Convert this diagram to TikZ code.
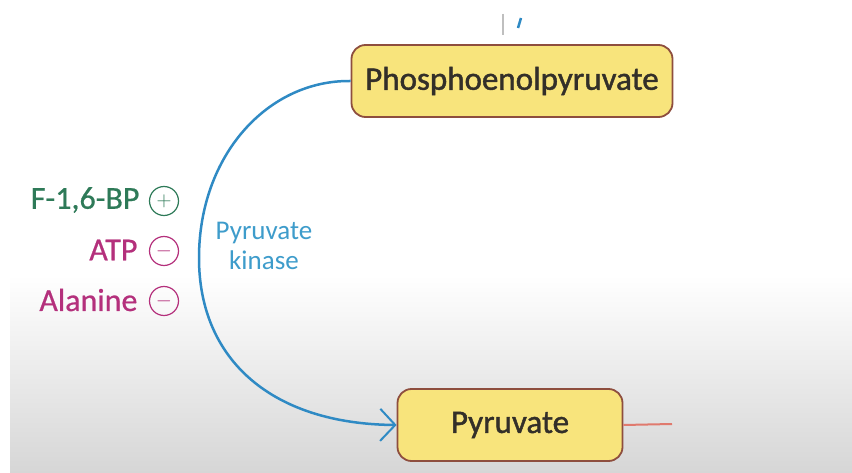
\documentclass[tikz,border=0pt]{standalone}
\usepackage{fontspec}
\setmainfont{Carlito}
\newfontfamily\heavyfont[FakeBold=1.3]{Carlito}
\newfontfamily\medfont[FakeBold=0.6]{Carlito}
\usetikzlibrary{arrows.meta}
\definecolor{boxfill}{HTML}{F8E47C}
\definecolor{boxdraw}{HTML}{8E4E3E}
\definecolor{arcblue}{HTML}{2F8AC4}
\definecolor{kblue}{HTML}{3E9CCB}
\definecolor{actgreen}{HTML}{2E7A58}
\definecolor{inhmag}{HTML}{B4307C}
\definecolor{redline}{HTML}{E07A6E}
\definecolor{bottomgray}{HTML}{D6D6D6}
\begin{document}
\begin{tikzpicture}[x=1pt,y=-1pt,
  metab/.style={draw=boxdraw,line width=1.8pt,fill=boxfill,rounded corners=14pt,
    inner sep=0pt,font=\heavyfont\fontsize{33}{36}\selectfont,text=black!85!olive},
  regtext/.style={anchor=east,font=\medfont\fontsize{32}{34}\selectfont},
  regsign/.style={circle,draw,line width=1.2pt,minimum size=29pt,inner sep=0pt,
    font=\fontsize{21}{21}\selectfont},
  flow/.style={draw=arcblue,line width=2.5pt,-{Straight Barb[length=15pt,width=32pt,line width=2pt]}}]
\useasboundingbox (0,0) rectangle (852,473);
\fill[white] (0,0) rectangle (852,473);
\shade[top color=white,bottom color=bottomgray] (10,275) rectangle (852,473);
% top marks
\draw[gray!50,line width=1.2pt] (503,14) -- (503,35);
\draw[arcblue,line width=2.5pt] (521,18) -- (518,28);
% boxes
\node[metab,minimum width=321pt,minimum height=72pt] (pep) at (512,81) {Phosphoenolpyruvate};
\node[metab,minimum width=225pt,minimum height=72pt] (pyr) at (510,425) {Pyruvate};
\coordinate (out) at (672,424);
\draw[redline,line width=2pt] (pyr.east) -- (out);
% reaction arc
\coordinate (arcl) at (199,258);
\draw[flow] (pep.west) .. controls (268,80) and (199,155) .. (arcl)
  .. controls (199,360) and (272,424) .. (pyr.west);
\node[text=kblue,font=\fontsize{27}{30}\selectfont,align=center] (enz) at (264,246) {Pyruvate\\kinase};
% regulators
\node[regsign,draw=actgreen,text=actgreen] (s1) at (164,201) {$+$};
\node[regsign,draw=inhmag,text=inhmag] (s2) at (164,251) {$-$};
\node[regsign,draw=inhmag,text=inhmag] (s3) at (164,301) {$-$};
\node[regtext,text=actgreen] (r1) at (143,200) {F-1,6-BP};
\node[regtext,text=inhmag] (r2) at (141,250) {ATP};
\node[regtext,text=inhmag] (r3) at (141,300) {Alanine};
\end{tikzpicture}
\end{document}
